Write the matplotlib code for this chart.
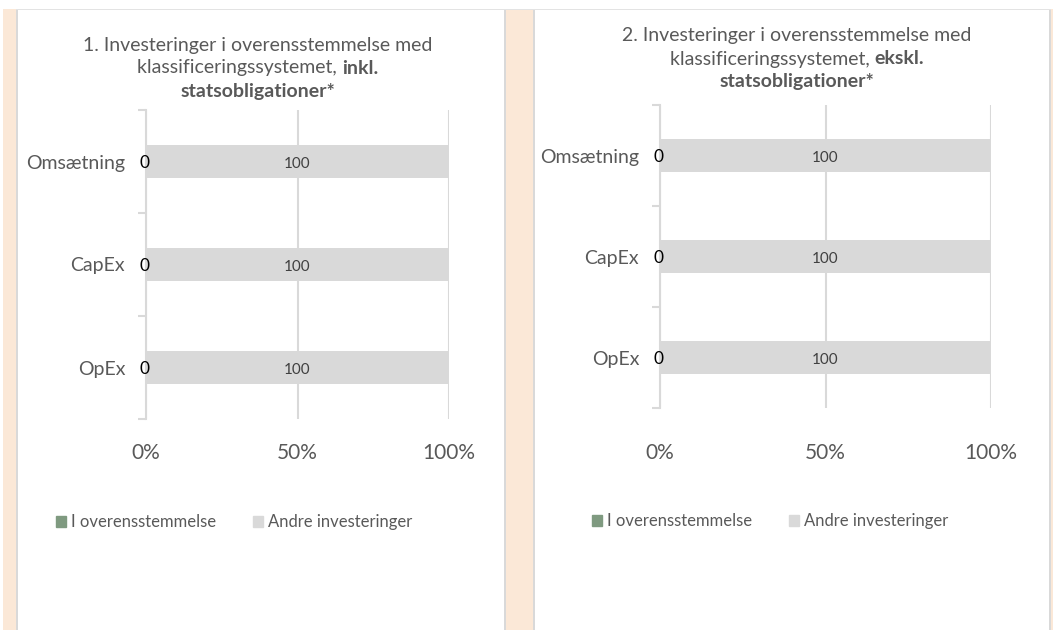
import matplotlib
matplotlib.use('Agg')
from matplotlib import pyplot as plt
from matplotlib.patches import Rectangle, Patch

plt.rcParams['font.family'] = ['Lato', 'DejaVu Sans']

categories = ['Omsætning', 'CapEx', 'OpEx']
series_names = ['I overensstemmelse', 'Andre investeringer']
left_aligned = [0, 0, 0]
left_other = [100, 100, 100]
right_aligned = [0, 0, 0]
right_other = [100, 100, 100]
xticks = [0, 50, 100]
xtick_labels = ['0%', '50%', '100%']
titles = [
    ('1. Investeringer i overensstemmelse med', 'klassificeringssystemet, ', 'inkl.', 'statsobligationer*'),
    ('2. Investeringer i overensstemmelse med', 'klassificeringssystemet, ', 'ekskl.', 'statsobligationer*'),
]

GREEN = '#7f9a80'
GREY = '#d9d9d9'
TXT = '#595959'
BEIGE = '#fbe8d7'
LINE = '#d9d9d9'

W, H = 1053, 630
fig = plt.figure(figsize=(W / 100, H / 100), dpi=100)
fig.patch.set_facecolor('white')


def box(x0, y0, x1, y1, color):
    # pixel coords, y from top
    fig.add_artist(Rectangle((x0 / W, 1 - y1 / H), (x1 - x0) / W, (y1 - y0) / H,
                             transform=fig.transFigure, facecolor=color, edgecolor='none', zorder=0))


# page background strips and panel borders
box(3, 9, 16, H, BEIGE)
box(506, 9, 533, H, BEIGE)
box(1051, 9, W, H, BEIGE)
box(16, 9, 17.5, H, LINE)
box(504, 9, 506, H, LINE)
box(533, 9, 535, H, LINE)
box(1049, 9, 1051, H, LINE)
box(16, 8.5, 1051, 10, '#e3e3e3')


def px_axes(x0, y0, x1, y1):
    return fig.add_axes([x0 / W, 1 - y1 / H, (x1 - x0) / W, (y1 - y0) / H])


def draw_panel(ax, aligned, other, title, title_x, title_ys, legend_xy, xpad):
    ypos = list(range(len(categories)))
    ax.barh(ypos, aligned, height=0.33, color=GREEN, label=series_names[0], zorder=3)
    ax.barh(ypos, other, left=aligned, height=0.33, color=GREY, label=series_names[1], zorder=3)
    for y, a, o in zip(ypos, aligned, other):
        ax.text(a - 0.5, y + 0.01, f'{a}', ha='center', va='center', fontsize=12.5, color='black', zorder=4)
        ax.text(a + o / 2, y + 0.02, f'{o}', ha='center', va='center', fontsize=11, color='#404040', zorder=4)
    ax.set_xlim(0, 100)
    ax.set_ylim(len(categories) - 0.5, -0.5)
    ax.set_xticks(xticks)
    ax.set_xticklabels(xtick_labels, fontsize=15, color=TXT)
    ax.tick_params(axis='x', length=0, pad=xpad)
    ax.grid(axis='x', color=GREY, lw=1.5, zorder=0)
    ax.set_yticks(ypos)
    ax.set_yticklabels(categories, fontsize=14, color=TXT)
    ax.set_yticks([p - 0.5 for p in ypos] + [len(ypos) - 0.5], minor=True)
    ax.tick_params(axis='y', which='major', length=0, pad=15)
    ax.tick_params(axis='y', which='minor', length=6, color=GREY, width=1.5)
    for s in ['top', 'right', 'bottom']:
        ax.spines[s].set_visible(False)
    ax.spines['left'].set_color(GREY)
    ax.spines['left'].set_linewidth(1.5)
    ax.set_facecolor('none')

    # title, three lines with a bold piece in the second
    l1, l2a, l2b, l3 = title
    fs = 14
    fig.text(title_x / W, 1 - title_ys[0] / H, l1, ha='center', va='center', fontsize=fs, color=TXT)
    r = fig.canvas.get_renderer()
    ta = fig.text(0, 0, l2a, fontsize=fs, color=TXT)
    tb = fig.text(0, 0, l2b, fontsize=fs, color=TXT, fontweight='bold')
    wa = ta.get_window_extent(r).width
    wb = tb.get_window_extent(r).width
    start = title_x - (wa + wb) / 2
    ta.set_position((start / W, 1 - title_ys[1] / H))
    ta.set_va('center')
    tb.set_position(((start + wa) / W, 1 - title_ys[1] / H))
    tb.set_va('center')
    fig.text(title_x / W, 1 - title_ys[2] / H, l3, ha='center', va='center', fontsize=fs,
             color=TXT, fontweight='bold')

    handles = [Patch(color=GREEN), Patch(color=GREY)]
    leg = fig.legend(handles, series_names, loc='center',
                     bbox_to_anchor=(legend_xy[0] / W, 1 - legend_xy[1] / H),
                     ncol=2, frameon=False, fontsize=12, handlelength=0.62, handleheight=0.62,
                     handletextpad=0.3, columnspacing=2.2)
    for t in leg.get_texts():
        t.set_color(TXT)


ax1 = px_axes(146, 110, 449, 419)
draw_panel(ax1, left_aligned, left_other, titles[0], 258, (45, 68, 91), (234, 522), 17)

ax2 = px_axes(660, 105, 991, 408)
draw_panel(ax2, right_aligned, right_other, titles[1], 797, (35, 59, 82), (770, 521), 25)

fig.savefig('out.png', dpi=100)
